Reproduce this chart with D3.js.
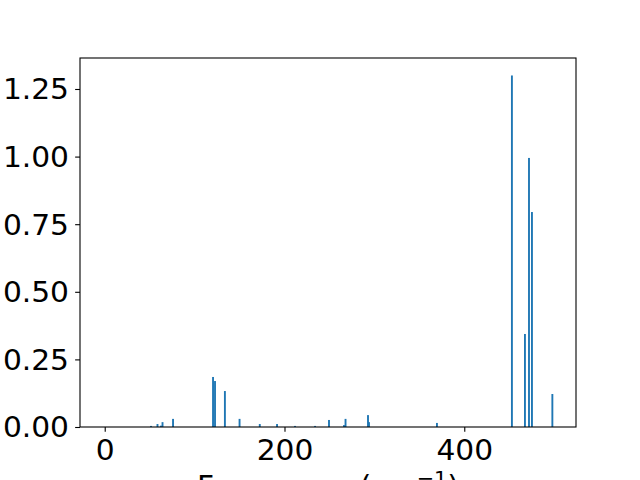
<!DOCTYPE html>
<html><head><meta charset="utf-8">
<script src="https://cdn.jsdelivr.net/npm/d3@7"></script>
<style>body{margin:0;background:#fff}svg{display:block}</style>
</head><body>
<svg id="c" width="640" height="480"></svg>
<script>
const frequencies = [51.5, 58.7, 62.6, 64.3, 76, 120.5, 122.7, 133.7, 150, 172.5, 191.7, 211.7, 234, 249.5, 266.2, 267.9, 292.9, 294, 369.6, 453, 467.5, 472, 475.3, 498];
const intensities = [0.004, 0.011, 0.005, 0.018, 0.03, 0.185, 0.17, 0.133, 0.03, 0.011, 0.011, 0.004, 0.004, 0.026, 0.007, 0.03, 0.044, 0.018, 0.015, 1.30, 0.344, 0.995, 0.795, 0.122];
const xTicks = [0, 200, 400];
const yTicks = [0, 0.25, 0.5, 0.75, 1.0, 1.25];
const xLabel = "Frequency (cm";
const xLabelSup = "\u22121";

const L = 80, R = 576, T = 58, B = 427;
const svg = d3.select("#c");
const font = "DejaVu Sans";
const fs = 27.5;
const sx = 1.08;
const x = d3.scaleLinear().domain([-27.5, 524.3]).range([L, R]);
const y = d3.scaleLinear().domain([0, 1.3646]).range([B, T]);
const barW = 2.1;

svg.append("g").selectAll("rect").data(frequencies).join("rect")
  .attr("x", (d) => x(d - barW / 2))
  .attr("width", (d) => x(barW) - x(0))
  .attr("y", (d, i) => y(intensities[i]))
  .attr("height", (d, i) => y(0) - y(intensities[i]))
  .attr("fill", "#1f77b4");

const xAxis = svg.append("g").attr("transform", `translate(0,${B})`)
  .call(d3.axisBottom(x).tickValues(xTicks).tickFormat(d3.format("d")).tickSize(4.86).tickPadding(4.86));
const yAxis = svg.append("g").attr("transform", `translate(${L},0)`)
  .call(d3.axisLeft(y).tickValues(yTicks).tickFormat(d3.format(".2f")).tickSize(4.86).tickPadding(4.86));
[xAxis, yAxis].forEach(g => {
  g.select(".domain").remove();
  g.selectAll("line").attr("stroke", "#000").attr("stroke-width", 1.1);
  g.selectAll("text").attr("font-family", font).attr("font-size", fs).attr("fill", "#000")
    .attr("transform", `scale(${sx},1)`);
});
yAxis.selectAll("text").attr("dy", "0.36em").attr("x", -11 / sx);
xAxis.selectAll("text").attr("dy", "0.84em");

svg.append("rect").attr("x", L).attr("y", T).attr("width", R - L).attr("height", B - T)
  .attr("fill", "none").attr("stroke", "#000").attr("stroke-width", 1.1);

const cx = (L + R) / 2;
const lab = svg.append("text").attr("x", cx / sx).attr("y", 496)
  .attr("transform", `scale(${sx},1)`)
  .attr("text-anchor", "middle").attr("font-family", font).attr("font-size", fs).attr("fill", "#000");
lab.append("tspan").text(xLabel);
lab.append("tspan").attr("font-size", fs * 0.7).attr("dy", -11).text(xLabelSup);
lab.append("tspan").attr("dy", 11).text(")");
</script>
</body></html>
